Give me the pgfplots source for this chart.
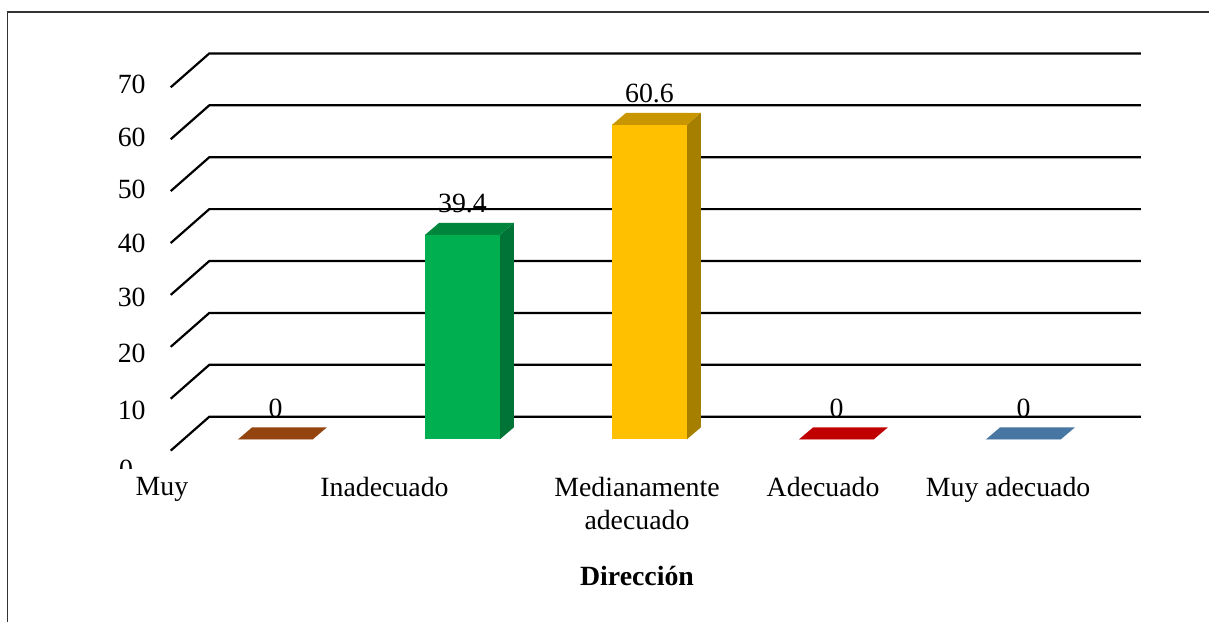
\documentclass[border=0pt]{standalone}
\usepackage{fontspec}
\setmainfont{Liberation Serif}
\usepackage{pgfplots}
\pgfplotsset{compat=1.18}
\definecolor{cbrown}{RGB}{148,69,15}
\definecolor{cgreen}{RGB}{0,176,80}
\definecolor{cgreentop}{RGB}{0,134,60}
\definecolor{cgreenside}{RGB}{0,116,54}
\definecolor{cyellow}{RGB}{255,192,0}
\definecolor{cyellowtop}{RGB}{200,150,0}
\definecolor{cyellowside}{RGB}{166,126,0}
\definecolor{cred}{RGB}{192,0,0}
\definecolor{cblue}{RGB}{71,118,162}
\begin{document}
\begin{tikzpicture}[font=\fontsize{13.9}{16.5}\selectfont]
\useasboundingbox (0,0) rectangle (604.5pt,311pt);
\begin{axis}[
  at={(72.3pt,75.78pt)}, anchor=south west,
  scale only axis, width=486.2pt, height=223.17pt,
  xmin=-0.7, xmax=4.5, ymin=-6, ymax=80,
  clip=false,
  axis line style={draw=none}, tick style={draw=none},
  ytick=\empty,
  xtick={-0.607,0.583,1.933,2.928,3.918},
  xticklabels={Muy,Inadecuado,{Medianamente\\adecuado},Adecuado,Muy adecuado},
  xticklabel style={align=center, anchor=north, inner sep=0pt, yshift=-3pt},
  xlabel={\textbf{Dirección}},
  every axis x label/.style={at={(rel axis cs:0.5064,0)}, anchor=base, yshift=-57.5pt},
  /pgf/number format/assume math mode=true,
  every node near coord/.append style={anchor=base, yshift=11pt, text=black, inner sep=0pt},
]
% back wall gridlines with floor diagonal
\addplot[black, line width=1.1pt] coordinates {(-0.5604,-2.18) (-0.354,4.35) (4.628,4.35)};
\addplot[black, line width=1.1pt] coordinates {(-0.5604,7.82) (-0.354,14.35) (4.628,14.35)};
\addplot[black, line width=1.1pt] coordinates {(-0.5604,17.82) (-0.354,24.35) (4.628,24.35)};
\addplot[black, line width=1.1pt] coordinates {(-0.5604,27.82) (-0.354,34.35) (4.628,34.35)};
\addplot[black, line width=1.1pt] coordinates {(-0.5604,37.82) (-0.354,44.35) (4.628,44.35)};
\addplot[black, line width=1.1pt] coordinates {(-0.5604,47.82) (-0.354,54.35) (4.628,54.35)};
\addplot[black, line width=1.1pt] coordinates {(-0.5604,57.82) (-0.354,64.35) (4.628,64.35)};
\addplot[black, line width=1.1pt] coordinates {(-0.5604,67.82) (-0.354,74.35) (4.628,74.35)};
% depth faces
\addplot[fill=cbrown, draw=none] coordinates {(-0.2,0) (0.2,0) (0.275,2.31) (-0.125,2.31)} -- cycle;
\addplot[fill=cgreenside, draw=none] coordinates {(1.2,0) (1.2,39.4) (1.275,41.71) (1.275,2.31)} -- cycle;
\addplot[fill=cgreentop, draw=none] coordinates {(0.8,39.4) (1.2,39.4) (1.275,41.71) (0.875,41.71)} -- cycle;
\addplot[fill=cyellowside, draw=none] coordinates {(2.2,0) (2.2,60.6) (2.275,62.91) (2.275,2.31)} -- cycle;
\addplot[fill=cyellowtop, draw=none] coordinates {(1.8,60.6) (2.2,60.6) (2.275,62.91) (1.875,62.91)} -- cycle;
\addplot[fill=cred, draw=none] coordinates {(2.8,0) (3.2,0) (3.275,2.31) (2.875,2.31)} -- cycle;
\addplot[fill=cblue, draw=none] coordinates {(3.8,0) (4.2,0) (4.275,2.31) (3.875,2.31)} -- cycle;
% front faces (data)
\addplot[ybar, bar width=0.4, bar shift=0pt, fill=cbrown, draw=none, nodes near coords] coordinates {(0,0)};
\addplot[ybar, bar width=0.4, bar shift=0pt, fill=cgreen, draw=none, nodes near coords] coordinates {(1,39.4)};
\addplot[ybar, bar width=0.4, bar shift=0pt, fill=cyellow, draw=none, nodes near coords] coordinates {(2,60.6)};
\addplot[ybar, bar width=0.4, bar shift=0pt, fill=cred, draw=none, nodes near coords] coordinates {(3,0)};
\addplot[ybar, bar width=0.4, bar shift=0pt, fill=cblue, draw=none, nodes near coords] coordinates {(4,0)};
\end{axis}
\begin{scope}[yshift=311pt, x=0.5pt, y=-0.5pt]
\draw[line width=0.8pt, black!80] (7.3,622) -- (7.3,12.3) -- (1209,12.3);
\node[anchor=base east, inner sep=0pt] at (146,94) {70};
\node[anchor=base east, inner sep=0pt] at (146,146.7) {60};
\node[anchor=base east, inner sep=0pt] at (146,199) {50};
\node[anchor=base east, inner sep=0pt] at (146,252) {40};
\node[anchor=base east, inner sep=0pt] at (146,307) {30};
\node[anchor=base east, inner sep=0pt] at (146,362.7) {20};
\node[anchor=base east, inner sep=0pt] at (146,419) {10};
\begin{scope}
\clip (0,300) rectangle (300,468);
\node[anchor=base, inner sep=0pt] at (126,478) {0};
\end{scope}
\end{scope}
\end{tikzpicture}
\end{document}
